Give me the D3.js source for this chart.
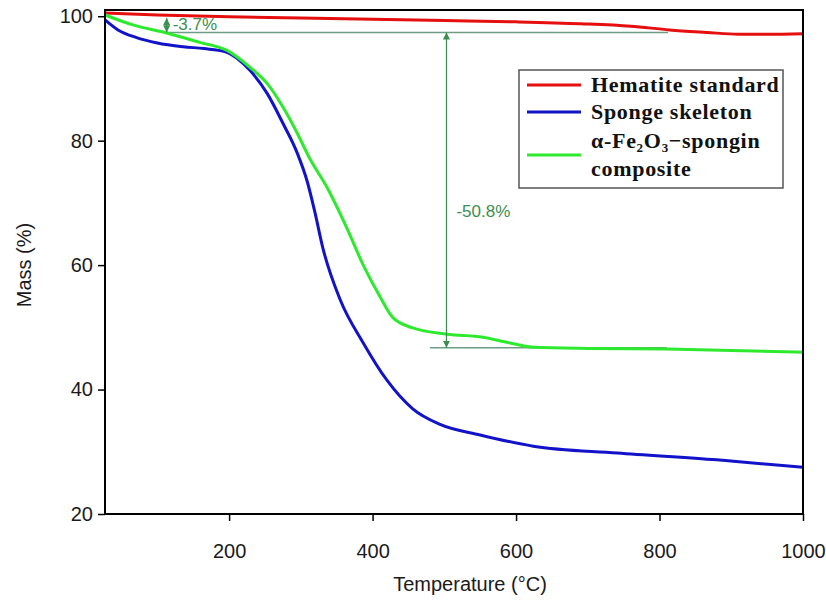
<!DOCTYPE html>
<html>
<head>
<meta charset="utf-8">
<script src="https://cdn.jsdelivr.net/npm/d3@7"></script>
<style>
  body { margin: 0; background: #fff; }
  svg { display: block; }
  .tick text { font-family: Arial, "Liberation Sans", sans-serif; }
</style>
</head>
<body>
<svg id="vis" width="826" height="608"></svg>
<script>
// Datos: [temperatura °C, masa %]
const hematite = [
  [27, 100.5], [100, 100.2], [200, 99.9], [300, 99.7], [400, 99.5], [500, 99.3],
  [600, 99.1], [690, 98.8], [760, 98.4], [814, 97.8], [866, 97.4], [910, 97.1],
  [950, 97.1], [1000, 97.2]
];
const sponge = [
  [27, 99.4], [45, 97.8], [70, 96.6], [100, 95.7], [136, 95.1], [165, 94.8], [195, 94.3],
  [229, 91.3], [253, 87.6], [275, 82.8], [295, 78.0], [309, 73.4], [319, 68.8],
  [331, 62.6], [355, 54.4], [387, 47.5], [420, 41.5], [456, 36.9], [494, 34.4],
  [550, 32.7], [624, 30.9], [741, 29.8], [880, 28.7], [1000, 27.5]
];
const composite = [
  [27, 100.2], [66, 98.6], [113, 97.3], [159, 95.8], [197, 94.5], [229, 91.8],
  [253, 89.2], [275, 85.4], [295, 81.2], [313, 77.0], [336, 72.6], [364, 66.0],
  [387, 60.0], [410, 55.0], [428, 51.6], [456, 49.9], [504, 48.9], [554, 48.4],
  [587, 47.6], [624, 46.8], [700, 46.6], [810, 46.5], [1000, 46.0]
];

const xTicks = [200, 400, 600, 800, 1000];
const yTicks = [20, 40, 60, 80, 100];

// Anotaciones de perdida de masa
const lossTop = 97.4;
const lossBottom = 46.7;
const smallArrow = { x: 113, from: 99.7, to: 97.4, label: "-3.7%" };
const bigArrow = { x: 503, label: "-50.8%" };

const series = [
  { name: "Hematite standard", data: hematite, color: "#e60f0f" },
  { name: "Sponge skeleton", data: sponge, color: "#1212c8" },
  { name: "composite", data: composite, color: "#2eea2e" }
];

const SVG = d3.select("#vis");
const margin = { left: 105, right: 23, top: 10, bottom: 94 };
const W = 826, H = 608;

const x = d3.scaleLinear().domain([27, 1000]).range([margin.left, W - margin.right]);
const y = d3.scaleLinear().domain([20, 101]).range([H - margin.bottom, margin.top]);

const annColor = "#3b8f4e";
const refColor = "#6f9c84";
const sans = "Arial, 'Liberation Sans', sans-serif";

// marcadores de flecha
const defs = SVG.append("defs");
["a-end", "a-start"].forEach((id, i) => {
  defs.append("marker")
    .attr("id", id)
    .attr("viewBox", "0 0 10 10")
    .attr("refX", i === 0 ? 10 : 0).attr("refY", 5)
    .attr("markerWidth", 6).attr("markerHeight", 6)
    .attr("orient", "auto")
    .append("path")
    .attr("d", i === 0 ? "M0,0 L10,5 L0,10 Z" : "M10,0 L0,5 L10,10 Z")
    .attr("fill", annColor);
});

// Ejes
const xAxis = SVG.append("g")
  .attr("transform", `translate(0,${H - margin.bottom})`)
  .call(d3.axisBottom(x).tickValues(xTicks).tickFormat(d3.format("d")).tickSize(7).tickPadding(23));
const yAxis = SVG.append("g")
  .attr("transform", `translate(${margin.left},0)`)
  .call(d3.axisLeft(y).tickValues(yTicks).tickSize(7).tickPadding(5));

[xAxis, yAxis].forEach(a => {
  a.select(".domain").remove();
  a.selectAll(".tick line").attr("stroke", "#000").attr("stroke-width", 1.5);
  a.selectAll(".tick text").attr("font-size", 20).attr("fill", "#1a1a1a");
});

// lineas de referencia
SVG.append("line")
  .attr("x1", x(smallArrow.x)).attr("x2", x(812))
  .attr("y1", y(lossTop)).attr("y2", y(lossTop))
  .attr("stroke", refColor).attr("stroke-width", 1.5);
SVG.append("line")
  .attr("x1", x(480)).attr("x2", x(810))
  .attr("y1", y(lossBottom)).attr("y2", y(lossBottom))
  .attr("stroke", refColor).attr("stroke-width", 1.5);

// Curvas
const line = d3.line()
  .x(d => x(d[0]))
  .y(d => y(d[1]))
  .curve(d3.curveMonotoneX);

SVG.append("g").selectAll("path")
  .data(series)
  .join("path")
  .attr("d", d => line(d.data))
  .attr("fill", "none")
  .attr("stroke", d => d.color)
  .attr("stroke-width", 3)
  .attr("stroke-linejoin", "round");

// flechas
SVG.append("line")
  .attr("x1", x(smallArrow.x)).attr("x2", x(smallArrow.x))
  .attr("y1", y(smallArrow.from)).attr("y2", y(smallArrow.to))
  .attr("stroke", annColor).attr("stroke-width", 1.2)
  .attr("marker-start", "url(#a-start)").attr("marker-end", "url(#a-end)");
SVG.append("text")
  .attr("x", x(smallArrow.x) + 6).attr("y", y(smallArrow.to) - 2)
  .attr("font-family", sans)
  .attr("font-size", 17).attr("fill", annColor)
  .text(smallArrow.label);

SVG.append("line")
  .attr("x1", x(bigArrow.x)).attr("x2", x(bigArrow.x))
  .attr("y1", y(lossTop)).attr("y2", y(lossBottom))
  .attr("stroke", annColor).attr("stroke-width", 1.2)
  .attr("marker-start", "url(#a-start)").attr("marker-end", "url(#a-end)");
SVG.append("text")
  .attr("x", x(bigArrow.x) + 10).attr("y", 217)
  .attr("font-family", sans)
  .attr("font-size", 17).attr("fill", annColor)
  .text(bigArrow.label);

// marco
SVG.append("rect")
  .attr("x", margin.left).attr("y", margin.top)
  .attr("width", W - margin.left - margin.right)
  .attr("height", H - margin.top - margin.bottom)
  .attr("fill", "none").attr("stroke", "#000").attr("stroke-width", 2);

// Titulos de ejes
SVG.append("text")
  .attr("x", (margin.left + W - margin.right) / 2 + 16).attr("y", 591)
  .attr("text-anchor", "middle")
  .attr("font-family", sans)
  .attr("font-size", 20).attr("fill", "#1a1a1a")
  .text("Temperature (°C)");
SVG.append("text")
  .attr("transform", "translate(31,265) rotate(-90)")
  .attr("text-anchor", "middle")
  .attr("font-family", sans)
  .attr("font-size", 20).attr("fill", "#1a1a1a")
  .text("Mass (%)");

// Leyenda
const legend = SVG.append("g").attr("transform", "translate(519,70)");
legend.append("rect")
  .attr("width", 264).attr("height", 118)
  .attr("fill", "#fff").attr("stroke", "#555").attr("stroke-width", 1.5);
const lf = "'Liberation Serif', 'DejaVu Serif', serif";
const lineY = [15, 42, 85];
series.forEach((s, i) => {
  legend.append("line")
    .attr("x1", 8).attr("x2", 62)
    .attr("y1", lineY[i]).attr("y2", lineY[i])
    .attr("stroke", s.color).attr("stroke-width", 3);
});
function legendText(yPos) {
  return legend.append("text").attr("x", 72).attr("y", yPos)
    .attr("font-family", lf).attr("font-weight", "bold").attr("font-size", 22)
    .attr("letter-spacing", 0.7).attr("fill", "#111");
}
legendText(22).text("Hematite standard");
legendText(49).text("Sponge skeleton");
const t3 = legendText(78);
t3.append("tspan").text("α-Fe");
t3.append("tspan").attr("font-size", 13).attr("dy", 4).text("2");
t3.append("tspan").attr("dy", -4).text("O");
t3.append("tspan").attr("font-size", 13).attr("dy", 4).text("3");
t3.append("tspan").attr("dy", -4).text("−spongin");
legendText(106).text("composite");
</script>
</body>
</html>
